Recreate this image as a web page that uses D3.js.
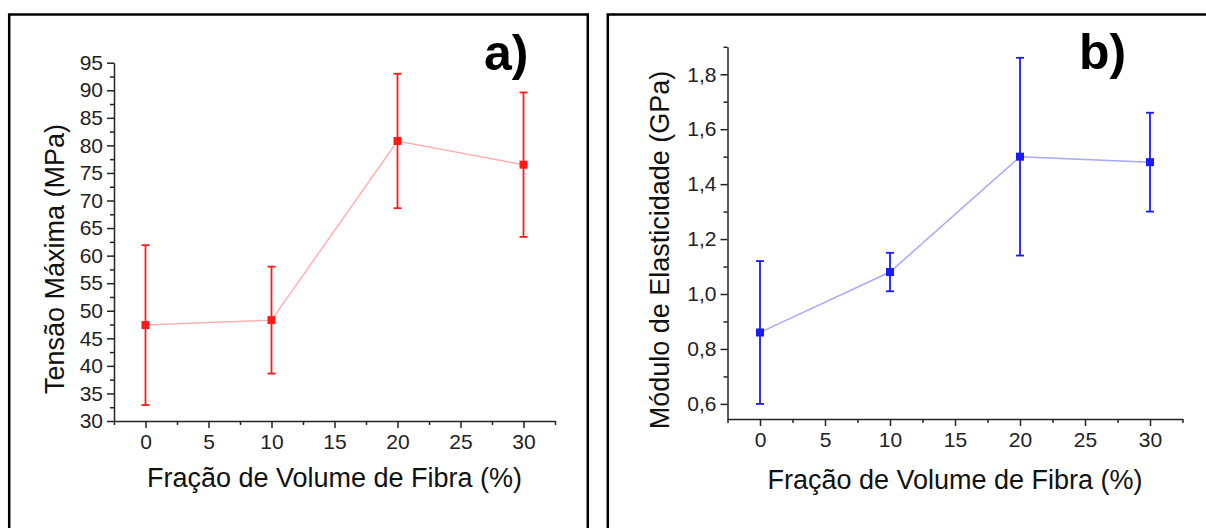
<!DOCTYPE html>
<html>
<head>
<meta charset="utf-8">
<script src="https://cdn.jsdelivr.net/npm/d3@7"></script>
<style>
  body { margin: 0; background: #fff; }
  svg { display: block; font-family: "Liberation Sans", Arial, sans-serif; }
  .axis path, .axis line { stroke: #222; stroke-width: 1.5; }
  .axis text { fill: #222; font-size: 21px; font-family: "Liberation Sans", Arial, sans-serif; }
</style>
</head>
<body>
<svg id="chart" width="1206" height="528"></svg>
<script>
// fraction of fibre volume (%)
var fracao = [0, 10, 20, 30];

// a) tensile strength (MPa) and its error
var tensao = [47.4, 48.3, 80.8, 76.5];
var tensaoErr = [14.5, 9.7, 12.2, 13.1];

// b) elastic modulus (GPa) and its error
var modulo = [0.86, 1.08, 1.50, 1.48];
var moduloErr = [0.26, 0.07, 0.36, 0.18];

var xTicks = [0, 5, 10, 15, 20, 25, 30];
var xMinor = [-2.5, 2.5, 7.5, 12.5, 17.5, 22.5, 27.5, 32.5];
var tensaoTicks = d3.range(30, 96, 5);
var tensaoMinor = d3.range(32.5, 95, 5);
var moduloTicks = [0.6, 0.8, 1.0, 1.2, 1.4, 1.6, 1.8];
var moduloMinor = [0.7, 0.9, 1.1, 1.3, 1.5, 1.7, 1.9];

var svg = d3.select("#chart");

// panel frames
svg.append("rect").attr("x", 9.2).attr("y", 14.5).attr("width", 578.6).attr("height", 600)
    .attr("fill", "none").attr("stroke", "#000").attr("stroke-width", 2.5);
svg.append("rect").attr("x", 607.8).attr("y", 14.5).attr("width", 700).attr("height", 600)
    .attr("fill", "none").attr("stroke", "#000").attr("stroke-width", 2.5);

function commaFmt(d) { return d3.format(".1f")(d).replace(".", ","); }

function drawPanel(o) {
  var x = d3.scaleLinear().domain([-2.5, 32.5]).range(o.xRange);
  var y = d3.scaleLinear().domain(o.yDomain).range(o.yRange);
  var g = svg.append("g");
  var x0 = o.xRange[0], y0 = o.yRange[0];

  // x axis
  g.append("g").attr("class", "axis").attr("transform", "translate(0," + y0 + ")")
      .call(d3.axisBottom(x).tickValues(xMinor).tickSize(4).tickFormat(""))
      .call(function(s) { s.select(".domain").remove(); });
  g.append("g").attr("class", "axis").attr("transform", "translate(0," + y0 + ")")
      .call(d3.axisBottom(x).tickValues(xTicks).tickSize(7).tickSizeOuter(0).tickPadding(6))
      .selectAll("text").attr("dy", "0.71em");

  // y axis
  g.append("g").attr("class", "axis").attr("transform", "translate(" + x0 + ",0)")
      .call(d3.axisLeft(y).tickValues(o.yMinor).tickSize(4).tickFormat(""))
      .call(function(s) { s.select(".domain").remove(); });
  g.append("g").attr("class", "axis").attr("transform", "translate(" + x0 + ",0)")
      .call(d3.axisLeft(y).tickValues(o.yTicks).tickSize(7).tickSizeOuter(0).tickPadding(4).tickFormat(o.fmt));

  // connecting line
  g.append("path")
      .datum(fracao)
      .attr("fill", "none")
      .attr("stroke", o.lineColor)
      .attr("stroke-width", 1.5)
      .attr("d", d3.line().x(function(d) { return x(d); }).y(function(d, i) { return y(o.values[i]); }));

  // error bars
  var eb = g.selectAll(".err").data(fracao).enter().append("g")
      .attr("stroke", o.color).attr("stroke-width", 1.8);
  eb.append("line")
      .attr("x1", function(d) { return x(d); }).attr("x2", function(d) { return x(d); })
      .attr("y1", function(d, i) { return y(o.values[i] + o.errs[i]); })
      .attr("y2", function(d, i) { return y(o.values[i] - o.errs[i]); });
  [1, -1].forEach(function(sg) {
    eb.append("line")
        .attr("x1", function(d) { return x(d) - 4; }).attr("x2", function(d) { return x(d) + 4; })
        .attr("y1", function(d, i) { return y(o.values[i] + sg * o.errs[i]); })
        .attr("y2", function(d, i) { return y(o.values[i] + sg * o.errs[i]); });
  });

  // markers
  g.selectAll(".pt").data(fracao).enter().append("rect")
      .attr("x", function(d) { return x(d) - 4; })
      .attr("y", function(d, i) { return y(o.values[i]) - 4; })
      .attr("width", 8).attr("height", 8)
      .attr("fill", o.color);

  // titles
  g.append("text")
      .attr("x", (o.xRange[0] + o.xRange[1]) / 2 + o.xTitleShift)
      .attr("y", o.xTitleY)
      .attr("text-anchor", "middle")
      .attr("font-size", 27).attr("fill", "#111")
      .text("Fração de Volume de Fibra (%)");
  g.append("text")
      .attr("transform", "translate(" + o.yTitleX + "," + o.yTitleY + ") rotate(-90)")
      .attr("text-anchor", "middle")
      .attr("font-size", 27).attr("fill", "#111")
      .text(o.yTitle);
  g.append("text")
      .attr("x", o.tag[0]).attr("y", o.tag[1])
      .attr("font-size", 50).attr("font-weight", "bold").attr("fill", "#000")
      .text(o.tagText);
}

drawPanel({
  xRange: [114, 555], yDomain: [30, 95], yRange: [421, 62.7],
  yTicks: tensaoTicks, yMinor: tensaoMinor, fmt: d3.format("d"),
  values: tensao, errs: tensaoErr,
  color: "#ff1a1a", lineColor: "#ffb0b0",
  xTitleShift: 0, xTitleY: 487, yTitleX: 64, yTitleY: 259,
  yTitle: "Tensão Máxima (MPa)", tag: [484, 70], tagText: "a)"
});

drawPanel({
  xRange: [727.5, 1182.5], yDomain: [0.545, 1.9], yRange: [419, 46.8],
  yTicks: moduloTicks, yMinor: moduloMinor, fmt: commaFmt,
  values: modulo, errs: moduloErr,
  color: "#1a1aff", lineColor: "#a8a8ff",
  xTitleShift: 0, xTitleY: 489, yTitleX: 669, yTitleY: 250,
  yTitle: "Módulo de Elasticidade (GPa)", tag: [1079, 69], tagText: "b)"
});
</script>
</body>
</html>
